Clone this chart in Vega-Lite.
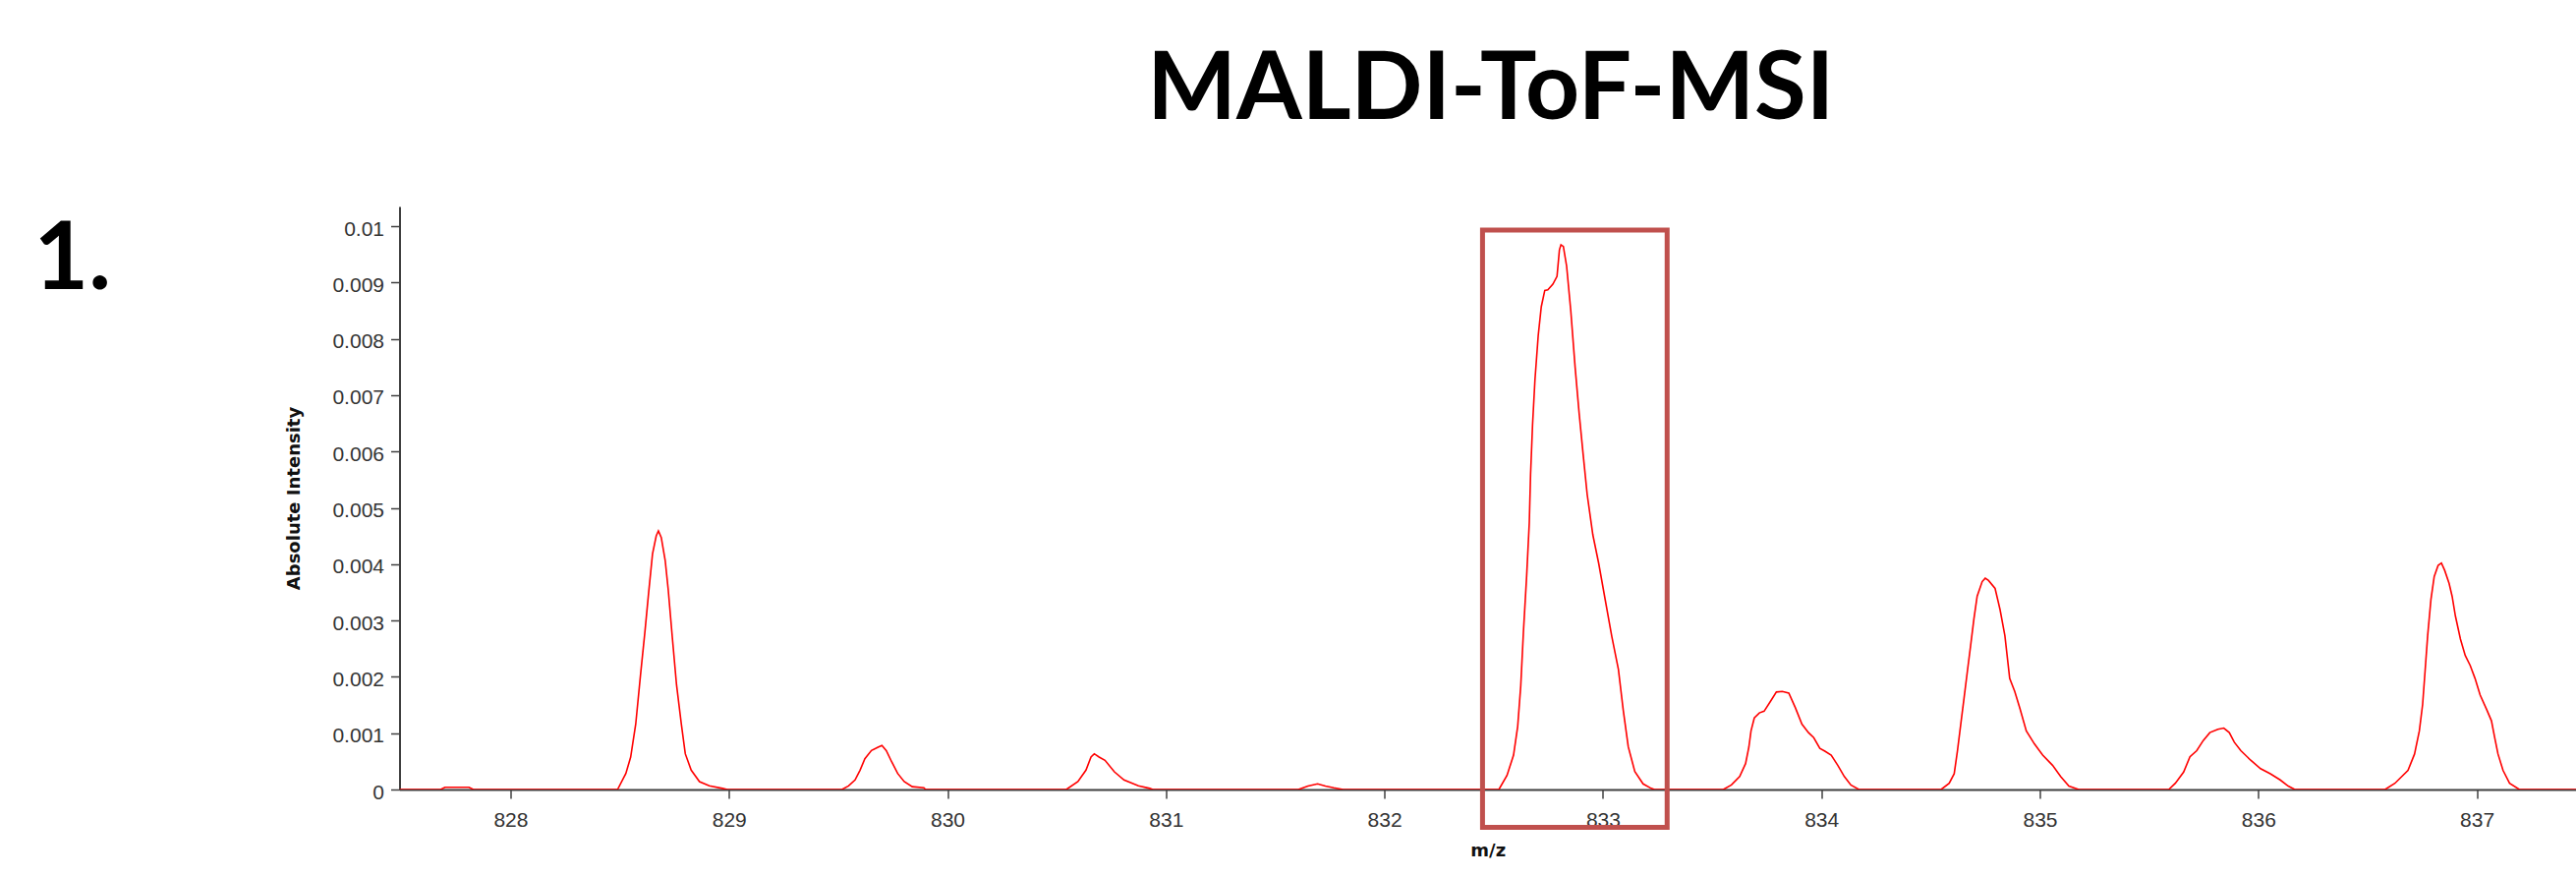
{
  "$schema": "https://vega.github.io/schema/vega-lite/v6.json",
  "autosize": "none",
  "width": 2214.5,
  "height": 593,
  "padding": {"left": 406.5, "top": 210, "right": 0, "bottom": 89},
  "background": "white",
  "view": {"stroke": null},
  "title": {"text": "MALDI-ToF-MSI", "font": "Lato", "fontSize": 96, "fontWeight": "bold", "color": "black", "anchor": "middle", "frame": "group", "baseline": "alphabetic", "offset": 93, "dx": 3, "dy": 100},
  "resolve": {"axis": {"y": "independent"}},
  "layer": [
    {
      "data": {"values": [
        {"mz": 827.492, "intensity": 0},
        {"mz": 827.68, "intensity": 0},
        {"mz": 827.70, "intensity": 0.00004},
        {"mz": 827.81, "intensity": 0.00004},
        {"mz": 827.83, "intensity": 0},
        {"mz": 828.490, "intensity": 0},
        {"mz": 828.528, "intensity": 0.000285},
        {"mz": 828.550, "intensity": 0.000576},
        {"mz": 828.573, "intensity": 0.001157},
        {"mz": 828.595, "intensity": 0.00203},
        {"mz": 828.615, "intensity": 0.00279},
        {"mz": 828.632, "intensity": 0.003485},
        {"mz": 828.650, "intensity": 0.004183},
        {"mz": 828.667, "intensity": 0.004503},
        {"mz": 828.677, "intensity": 0.00459},
        {"mz": 828.690, "intensity": 0.004473},
        {"mz": 828.708, "intensity": 0.004066},
        {"mz": 828.722, "intensity": 0.003543},
        {"mz": 828.740, "intensity": 0.002728},
        {"mz": 828.760, "intensity": 0.001855},
        {"mz": 828.782, "intensity": 0.001157},
        {"mz": 828.800, "intensity": 0.000634},
        {"mz": 828.827, "intensity": 0.000344},
        {"mz": 828.865, "intensity": 0.00014},
        {"mz": 828.910, "intensity": 0.000065},
        {"mz": 828.970, "intensity": 0.00002},
        {"mz": 828.992, "intensity": 0},
        {"mz": 829.517, "intensity": 0},
        {"mz": 829.547, "intensity": 0.000064},
        {"mz": 829.577, "intensity": 0.00017},
        {"mz": 829.600, "intensity": 0.000344},
        {"mz": 829.622, "intensity": 0.000547},
        {"mz": 829.652, "intensity": 0.000692},
        {"mz": 829.682, "intensity": 0.00075},
        {"mz": 829.700, "intensity": 0.00078},
        {"mz": 829.720, "intensity": 0.000692},
        {"mz": 829.745, "intensity": 0.000489},
        {"mz": 829.772, "intensity": 0.000285},
        {"mz": 829.802, "intensity": 0.00014},
        {"mz": 829.839, "intensity": 0.00005},
        {"mz": 829.892, "intensity": 0.00003},
        {"mz": 829.900, "intensity": 0},
        {"mz": 830.544, "intensity": 0},
        {"mz": 830.597, "intensity": 0.00014},
        {"mz": 830.634, "intensity": 0.000344},
        {"mz": 830.657, "intensity": 0.000576},
        {"mz": 830.672, "intensity": 0.000634},
        {"mz": 830.694, "intensity": 0.000576},
        {"mz": 830.721, "intensity": 0.000518},
        {"mz": 830.764, "intensity": 0.000314},
        {"mz": 830.808, "intensity": 0.00017},
        {"mz": 830.874, "intensity": 0.000064},
        {"mz": 830.926, "intensity": 0.00002},
        {"mz": 830.940, "intensity": 0},
        {"mz": 831.606, "intensity": 0},
        {"mz": 831.650, "intensity": 0.00006},
        {"mz": 831.694, "intensity": 0.0001},
        {"mz": 831.730, "intensity": 0.00006},
        {"mz": 831.768, "intensity": 0.00003},
        {"mz": 831.811, "intensity": 0},
        {"mz": 832.524, "intensity": 0},
        {"mz": 832.561, "intensity": 0.00025},
        {"mz": 832.591, "intensity": 0.00061},
        {"mz": 832.610, "intensity": 0.00112},
        {"mz": 832.624, "intensity": 0.00184},
        {"mz": 832.636, "intensity": 0.00278},
        {"mz": 832.651, "intensity": 0.00379},
        {"mz": 832.663, "intensity": 0.00473},
        {"mz": 832.669, "intensity": 0.0056},
        {"mz": 832.678, "intensity": 0.00647},
        {"mz": 832.689, "intensity": 0.00727},
        {"mz": 832.704, "intensity": 0.00806},
        {"mz": 832.718, "intensity": 0.00857},
        {"mz": 832.734, "intensity": 0.00886},
        {"mz": 832.748, "intensity": 0.00887},
        {"mz": 832.771, "intensity": 0.00897},
        {"mz": 832.790, "intensity": 0.00911},
        {"mz": 832.801, "intensity": 0.00958},
        {"mz": 832.808, "intensity": 0.00967},
        {"mz": 832.819, "intensity": 0.00964},
        {"mz": 832.834, "intensity": 0.00929},
        {"mz": 832.853, "intensity": 0.0085},
        {"mz": 832.873, "intensity": 0.00749},
        {"mz": 832.891, "intensity": 0.00669},
        {"mz": 832.909, "intensity": 0.00597},
        {"mz": 832.928, "intensity": 0.00524},
        {"mz": 832.954, "intensity": 0.00452},
        {"mz": 832.981, "intensity": 0.00401},
        {"mz": 833.011, "intensity": 0.00336},
        {"mz": 833.041, "intensity": 0.00271},
        {"mz": 833.071, "intensity": 0.00213},
        {"mz": 833.093, "intensity": 0.00141},
        {"mz": 833.116, "intensity": 0.00076},
        {"mz": 833.146, "intensity": 0.00032},
        {"mz": 833.184, "intensity": 0.0001},
        {"mz": 833.221, "intensity": 0.00002},
        {"mz": 833.236, "intensity": 0},
        {"mz": 833.551, "intensity": 0},
        {"mz": 833.588, "intensity": 0.00008},
        {"mz": 833.626, "intensity": 0.00023},
        {"mz": 833.653, "intensity": 0.00046},
        {"mz": 833.668, "intensity": 0.00075},
        {"mz": 833.678, "intensity": 0.00104},
        {"mz": 833.693, "intensity": 0.00127},
        {"mz": 833.716, "intensity": 0.00136},
        {"mz": 833.738, "intensity": 0.00139},
        {"mz": 833.768, "intensity": 0.00157},
        {"mz": 833.794, "intensity": 0.00173},
        {"mz": 833.821, "intensity": 0.00174},
        {"mz": 833.851, "intensity": 0.00171},
        {"mz": 833.881, "intensity": 0.00145},
        {"mz": 833.911, "intensity": 0.00116},
        {"mz": 833.941, "intensity": 0.00101},
        {"mz": 833.965, "intensity": 0.00092},
        {"mz": 833.993, "intensity": 0.00073},
        {"mz": 834.016, "intensity": 0.00068},
        {"mz": 834.045, "intensity": 0.00061},
        {"mz": 834.075, "intensity": 0.00043},
        {"mz": 834.105, "intensity": 0.00023},
        {"mz": 834.135, "intensity": 0.00008},
        {"mz": 834.172, "intensity": 0},
        {"mz": 834.548, "intensity": 0},
        {"mz": 834.585, "intensity": 0.00011},
        {"mz": 834.608, "intensity": 0.00028},
        {"mz": 834.623, "intensity": 0.00069},
        {"mz": 834.638, "intensity": 0.00116},
        {"mz": 834.653, "intensity": 0.00162},
        {"mz": 834.668, "intensity": 0.00209},
        {"mz": 834.683, "intensity": 0.00255},
        {"mz": 834.698, "intensity": 0.00302},
        {"mz": 834.713, "intensity": 0.00343},
        {"mz": 834.736, "intensity": 0.00369},
        {"mz": 834.750, "intensity": 0.00375},
        {"mz": 834.765, "intensity": 0.00371},
        {"mz": 834.795, "intensity": 0.00357},
        {"mz": 834.818, "intensity": 0.00319},
        {"mz": 834.840, "intensity": 0.00273},
        {"mz": 834.862, "intensity": 0.00197},
        {"mz": 834.885, "intensity": 0.00174},
        {"mz": 834.908, "intensity": 0.00145},
        {"mz": 834.938, "intensity": 0.00104},
        {"mz": 834.975, "intensity": 0.00081},
        {"mz": 835.013, "intensity": 0.00061},
        {"mz": 835.058, "intensity": 0.00043},
        {"mz": 835.095, "intensity": 0.00023},
        {"mz": 835.133, "intensity": 0.00006},
        {"mz": 835.178, "intensity": 0},
        {"mz": 835.590, "intensity": 0},
        {"mz": 835.620, "intensity": 0.00011},
        {"mz": 835.658, "intensity": 0.00031},
        {"mz": 835.687, "intensity": 0.00058},
        {"mz": 835.718, "intensity": 0.00069},
        {"mz": 835.748, "intensity": 0.00087},
        {"mz": 835.778, "intensity": 0.00101},
        {"mz": 835.815, "intensity": 0.00107},
        {"mz": 835.842, "intensity": 0.00109},
        {"mz": 835.867, "intensity": 0.00101},
        {"mz": 835.890, "intensity": 0.00084},
        {"mz": 835.920, "intensity": 0.00069},
        {"mz": 835.965, "intensity": 0.00052},
        {"mz": 836.010, "intensity": 0.00037},
        {"mz": 836.055, "intensity": 0.00028},
        {"mz": 836.100, "intensity": 0.00017},
        {"mz": 836.137, "intensity": 0.00006},
        {"mz": 836.167, "intensity": 0},
        {"mz": 836.580, "intensity": 0},
        {"mz": 836.625, "intensity": 0.00011},
        {"mz": 836.685, "intensity": 0.00034},
        {"mz": 836.715, "intensity": 0.00063},
        {"mz": 836.737, "intensity": 0.00104},
        {"mz": 836.752, "intensity": 0.00151},
        {"mz": 836.763, "intensity": 0.00209},
        {"mz": 836.775, "intensity": 0.00273},
        {"mz": 836.790, "intensity": 0.00337},
        {"mz": 836.805, "intensity": 0.00378},
        {"mz": 836.823, "intensity": 0.00398},
        {"mz": 836.838, "intensity": 0.00402},
        {"mz": 836.853, "intensity": 0.00389},
        {"mz": 836.873, "intensity": 0.00366},
        {"mz": 836.887, "intensity": 0.00343},
        {"mz": 836.902, "intensity": 0.00308},
        {"mz": 836.925, "intensity": 0.00267},
        {"mz": 836.947, "intensity": 0.00238},
        {"mz": 836.970, "intensity": 0.0022},
        {"mz": 836.992, "intensity": 0.00197},
        {"mz": 837.015, "intensity": 0.00168},
        {"mz": 837.045, "intensity": 0.00142},
        {"mz": 837.067, "intensity": 0.00122},
        {"mz": 837.082, "intensity": 0.00092},
        {"mz": 837.097, "intensity": 0.00063},
        {"mz": 837.120, "intensity": 0.00034},
        {"mz": 837.150, "intensity": 0.00011},
        {"mz": 837.195, "intensity": 0},
        {"mz": 837.454, "intensity": 0}
      ]},
      "mark": {"type": "line", "color": "#ff0000", "strokeWidth": 1.6, "clip": true},
      "encoding": {
        "x": {
          "field": "mz", "type": "quantitative",
          "scale": {"domain": [827.492, 837.454], "nice": false, "zero": false},
          "axis": {
            "title": "m/z", "values": [828, 829, 830, 831, 832, 833, 834, 835, 836, 837], "format": "d",
            "grid": false, "domainColor": "#404040", "domainWidth": 2, "tickColor": "#404040", "tickWidth": 1.5, "tickSize": 9,
            "labelFont": "Liberation Sans", "labelFontSize": 21, "labelColor": "#333333", "labelPadding": 11,
            "titleFont": "DejaVu Sans", "titleFontSize": 18, "titleFontWeight": "bold", "titleColor": "#111111",
            "titleBaseline": "alphabetic", "titleY": 67
          }
        },
        "y": {
          "field": "intensity", "type": "quantitative",
          "scale": {"domain": [0, 0.01035], "nice": false, "zero": false},
          "axis": {
            "orient": "left", "title": "Absolute Intensity",
            "values": [0, 0.001, 0.002, 0.003, 0.004, 0.005, 0.006, 0.007, 0.008, 0.009, 0.01], "format": "~g",
            "grid": false, "domainColor": "#404040", "domainWidth": 2, "tickColor": "#404040", "tickWidth": 1.5, "tickSize": 9,
            "labelFont": "Liberation Sans", "labelFontSize": 21, "labelColor": "#333333", "labelPadding": 7, "labelOffset": 3,
            "titleFont": "DejaVu Sans", "titleFontSize": 18, "titleFontWeight": "bold", "titleColor": "#111111",
            "titleBaseline": "alphabetic", "titleX": -102.5
          }
        }
      }
    },
    {
      "data": {"values": [
        {"mz_start": 832.449, "mz_end": 833.294, "top": 0.00993, "bottom": -0.00067}
      ]},
      "mark": {"type": "rect", "filled": false, "stroke": "#c0504d", "strokeWidth": 5, "clip": false},
      "encoding": {
        "x": {"field": "mz_start", "type": "quantitative", "scale": {"domain": [827.492, 837.454], "nice": false, "zero": false}},
        "x2": {"field": "mz_end"},
        "y": {
          "field": "top", "type": "quantitative",
          "scale": {"domain": [0, 0.01035], "nice": false, "zero": false},
          "axis": {
            "orient": "right", "title": "1.", "labels": false, "ticks": false, "domain": false, "grid": false,
            "titleAngle": 0, "titleAlign": "left", "titleBaseline": "alphabetic",
            "titleX": -2587, "titleY": 83,
            "titleFont": "Lato", "titleFontSize": 96, "titleFontWeight": "bold", "titleColor": "#000000"
          }
        },
        "y2": {"field": "bottom"}
      }
    }
  ]
}
